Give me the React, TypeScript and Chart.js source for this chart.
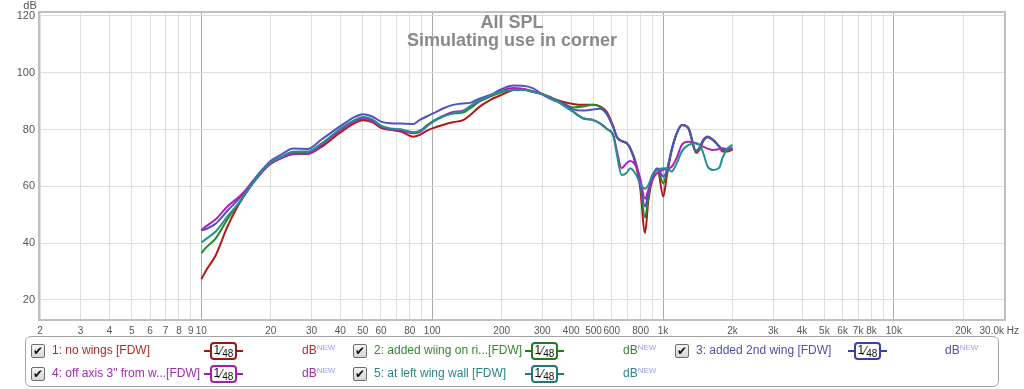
import React, { useEffect, useRef } from 'react';
import { Chart, registerables } from 'chart.js';

Chart.register(...registerables);

// ---------- data ----------
const FREQS = [
  10, 10.5, 11.5, 13, 14.5, 16.5, 18.5, 20, 22, 25, 29, 33, 40, 46, 50, 55, 60, 66, 73, 83, 88, 95,
  101, 112, 123, 136, 146, 160, 178, 203, 224, 247, 274, 302, 334, 368, 408, 450, 497,
  533, 570, 610, 630, 662, 696, 720, 766, 795, 836, 864, 906, 945, 1003, 1037, 1090, 1145, 1210,
  1290, 1390, 1440, 1490, 1560, 1650, 1750, 1810, 1900, 2000,
];

const S1_NO_WINGS = [
  27.3, 30.5, 35.5, 46, 53.5, 60.5, 65.5, 68, 69.8, 71.3, 71.5, 73.8, 79, 82.2, 83.3, 82.6, 80.6, 79.9, 79.3, 77.5, 78.1, 79.6,
  80.5, 81.7, 82.6, 83.3, 85.1, 88, 90.4, 92.5, 93.9, 94.2, 93.3, 92.5, 91, 89.8, 89, 88.7, 88.7,
  88.2, 86.3, 81, 77.5, 76, 75.3, 73.5, 67, 60, 43.6, 55.2, 63.4, 66.3, 56.4, 63.4, 72.5, 78.5, 81.6,
  80.3, 71.8, 73, 75.8, 77.3, 76.2, 74, 72.3, 72.3, 73,
];

const S2_WING_RIGHT = [
  36.5, 38.5, 41.5, 48.5, 54, 60.5, 65.5, 68.3, 70, 72, 72, 74.7, 80, 83, 84.2, 83.4, 81.2, 80.1, 79.9, 78.9, 79.3, 81.5,
  83.1, 84.8, 85.7, 86, 87.5, 89.8, 91.6, 93.3, 93.9, 94, 93.2, 92.4, 90.8, 89.4, 87.8, 88.1, 88.7,
  88, 85.6, 80.7, 77.5, 75.9, 75.2, 73.5, 67.5, 61.3, 49, 56.5, 63.8, 66.2, 61.1, 65, 73, 78.6, 81.6,
  80.4, 72.2, 73.4, 76, 77.4, 76.3, 74, 72.6, 72.6, 73,
];

const S3_SECOND_WING = [
  44.5, 45, 46.8, 51.5, 55.5, 61.3, 66.2, 69, 71, 73.3, 73.2, 76.4, 81.2, 84.4, 85.4, 84.6, 82.8, 82.2, 82.1, 82, 83.3, 84.7,
  85.7, 87.5, 88.7, 89.2, 89.4, 90.9, 92.2, 94.5, 95.5, 95.4, 94.5, 92.2, 90.4, 89.3, 87.1, 86.7, 87.1,
  87.3, 85.5, 80.6, 77.5, 75.9, 75.2, 73.6, 67.8, 61.5, 52.9, 58, 64, 66.3, 63.5, 65.5, 73, 78.6, 81.6,
  80.5, 72.6, 73.8, 76.3, 77.6, 76.4, 74.2, 73, 73.2, 73.6,
];

const S4_OFF_AXIS = [
  44.6, 46, 48.3, 53, 56.2, 60.8, 65.5, 68.2, 69.9, 71.5, 71.5, 74.5, 79.8, 82.8, 83.8, 83.1, 81, 80, 79.7, 78.7, 79.1, 81.2,
  82.8, 84.9, 86.2, 86.6, 88.2, 90.2, 91.8, 93.9, 94.6, 94.4, 93.5, 92.3, 90.7, 88.7, 86.3, 84, 83.4,
  82.2, 80.3, 78, 72.8, 66.4, 68.2, 68.9, 66.9, 63, 55.6, 58.8, 62.8, 64.8, 65.8, 66.2, 66.9, 70, 74.8,
  75.7, 75.2, 74.6, 74, 73.3, 72.8, 73.1, 73.4, 73.1, 72.8,
];

const S5_LEFT_WALL = [
  40.3, 41.5, 44, 49.5, 54, 60.5, 65.8, 68.5, 70.2, 72.2, 72.3, 75, 80.3, 83.3, 84.4, 83.6, 81.4, 80.4, 80.1, 79.1, 79.5, 81.4,
  82.8, 84.7, 85.8, 86.4, 88.2, 90.2, 91.9, 93.6, 93.9, 94, 93.3, 92.4, 90.7, 88.7, 86.3, 84, 83.4,
  82.2, 80.3, 77.5, 71.6, 64, 64.8, 66.4, 64, 61, 59.2, 60.5, 64.6, 65.8, 66.4, 66.4, 65.2, 68.1, 72.5,
  74.6, 75.2, 74.6, 72, 67, 65.8, 66.5, 70, 73.3, 74.6,
];

const SERIES_NAMES = [
  '1: no wings [FDW]',
  '2: added wiing on ri...[FDW]',
  '3: added 2nd wing [FDW]',
  '4: off axis 3" from w...[FDW]',
  '5: at left wing wall [FDW]',
];
const LINE_COLORS = ['#b31818', '#248a24', '#5252c4', '#ad22bd', '#21908f'];
const TEXT_COLORS = ['#b02a2a', '#2f8a2f', '#5050a8', '#a22ab0', '#2a8585'];
const BOX_COLORS = ['#a01414', '#1f7d1f', '#3c3cb0', '#a020b0', '#1f7a7a'];

const X_TICK_VALUES = [
  2, 3, 4, 5, 6, 7, 8, 9, 10, 20, 30, 40, 50, 60, 70, 80, 90, 100, 200, 300, 400, 500, 600, 700, 800, 900,
  1000, 2000, 3000, 4000, 5000, 6000, 7000, 8000, 9000, 10000, 20000, 30000,
];
// the last tick's label is drawn with its unit, flush to the right edge
const X_TICK_LABELS = [
  '2', '3', '4', '5', '6', '7', '8', '9', '10', '20', '30', '40', '50', '60', '', '80', '', '100', '200', '300', '400', '500', '600', '', '800', '',
  '1k', '2k', '3k', '4k', '5k', '6k', '7k', '8k', '', '10k', '20k', '',
];
const X_LAST_LABEL = '30.0k Hz';
const Y_UNIT = 'dB';
const X_MAJOR = [10, 100, 1000, 10000];
const Y_TICKS = [20, 40, 60, 80, 100, 120];

const TITLE_LINES = ['All SPL', 'Simulating use in corner'];
const FONT = '"Liberation Sans", Arial, sans-serif';

// ---------- plugins ----------
const framePlugin = {
  id: 'frame',
  beforeDatasetsDraw(chart: any) {
    const { ctx, chartArea: a } = chart;
    ctx.save();
    ctx.strokeStyle = '#c0c0c0';
    ctx.lineWidth = 2;
    ctx.strokeRect(a.left - 1, a.top - 1, a.right - a.left + 2, a.bottom - a.top + 2);
    ctx.restore();
  },
};

const textPlugin = {
  id: 'overlayText',
  afterDraw(chart: any) {
    const { ctx, chartArea: a } = chart;
    ctx.save();
    ctx.fillStyle = '#8a8a8a';
    ctx.font = `bold 18px ${FONT}`;
    ctx.textAlign = 'center';
    ctx.textBaseline = 'alphabetic';
    ctx.fillText(TITLE_LINES[0], 512, 28);
    ctx.fillText(TITLE_LINES[1], 512, 46);
    ctx.fillStyle = '#555';
    ctx.font = `11px ${FONT}`;
    ctx.fillText(Y_UNIT, 30, 9);
    ctx.font = `10px ${FONT}`;
    ctx.textAlign = 'right';
    ctx.textBaseline = 'top';
    ctx.fillText(X_LAST_LABEL, a.right + 15, a.bottom + 7);
    ctx.restore();
  },
};

// ---------- legend ----------
function CheckBox({ x, y }: { x: number; y: number }) {
  return (
    <div
      style={{
        position: 'absolute', left: x, top: y - 7, width: 12, height: 12,
        border: '1px solid #6e6e6e', borderRadius: 2,
        background: 'linear-gradient(#f4f4f4, #d6d6d6)',
        fontSize: 12, lineHeight: '12px', textAlign: 'center', color: '#111',
        fontFamily: '"DejaVu Sans", sans-serif',
      }}
    >
      ✔
    </div>
  );
}

function LegendEntry({ idx, x, y, boxX, dbX }: { idx: number; x: number; y: number; boxX: number; dbX: number }) {
  return (
    <>
      <CheckBox x={x} y={y} />
      <div style={{ position: 'absolute', left: x + 21, top: y - 8, fontSize: 12, lineHeight: '14px', color: TEXT_COLORS[idx], whiteSpace: 'nowrap' }}>
        {SERIES_NAMES[idx]}
      </div>
      <div style={{ position: 'absolute', left: boxX, top: y - 1, width: 39, height: 2, background: BOX_COLORS[idx] }} />
      <div
        style={{
          position: 'absolute', left: boxX + 6, top: y - 9, width: 23, height: 14,
          border: `2px solid ${BOX_COLORS[idx]}`, borderRadius: 4, background: '#fff',
          fontSize: 12, lineHeight: '14px', color: '#111', whiteSpace: 'nowrap', textAlign: 'center',
        }}
      >
        <span style={{ position: 'relative', top: -1 }}>1</span>
        <span>⁄</span>
        <span style={{ fontSize: 10, position: 'relative', top: 2 }}>48</span>
      </div>
      <div style={{ position: 'absolute', left: dbX, top: y - 8, fontSize: 12, lineHeight: '14px', color: TEXT_COLORS[idx], whiteSpace: 'nowrap' }}>
        dB<span style={{ fontSize: 8, color: '#9b9bf0', position: 'relative', top: -4 }}>NEW</span>
      </div>
    </>
  );
}

export default function App() {
  const canvasRef = useRef<HTMLCanvasElement | null>(null);

  useEffect(() => {
    if (!canvasRef.current) return;
    const seriesValues = [S1_NO_WINGS, S2_WING_RIGHT, S3_SECOND_WING, S4_OFF_AXIS, S5_LEFT_WALL];
    const chart = new Chart(canvasRef.current, {
      type: 'line',
      data: {
        datasets: seriesValues.map((vals, i) => ({
          label: SERIES_NAMES[i],
          data: FREQS.map((f, j) => ({ x: f, y: vals[j] })),
          borderColor: LINE_COLORS[i],
          backgroundColor: LINE_COLORS[i],
          borderWidth: 2,
          pointRadius: 0,
          fill: false,
          cubicInterpolationMode: 'monotone' as const,
          order: 5 - i,
        })),
      },
      options: {
        responsive: false,
        animation: false,
        events: [],
        layout: { padding: { left: 0, right: 20, top: 13, bottom: 0 } },
        plugins: { legend: { display: false }, tooltip: { enabled: false }, title: { display: false } },
        scales: {
          x: {
            type: 'logarithmic',
            min: 2,
            max: 30000,
            afterBuildTicks: (s: any) => {
              s.ticks = X_TICK_VALUES.map((v) => ({ value: v }));
            },
            afterFit: (s: any) => {
              s.height = 70;
              s.paddingLeft = 0;
              s.paddingRight = 0;
            },
            ticks: {
              autoSkip: false,
              maxRotation: 0,
              minRotation: 0,
              padding: 6,
              color: '#555',
              font: { family: FONT, size: 10 },
              callback: (_v: any, i: number) => X_TICK_LABELS[i],
            },
            grid: {
              drawTicks: false,
              lineWidth: 1,
              color: (c: any) => (c.tick && X_MAJOR.includes(c.tick.value) ? '#a9a9a9' : '#dedede'),
            },
            border: { display: false },
          },
          y: {
            type: 'linear',
            min: 13.3,
            max: 121.05,
            afterBuildTicks: (s: any) => {
              s.ticks = Y_TICKS.map((v) => ({ value: v }));
            },
            afterFit: (s: any) => {
              s.width = 40;
            },
            ticks: {
              padding: 5,
              color: '#555',
              font: { family: FONT, size: 11 },
              callback: (v: any) => String(v),
            },
            grid: { drawTicks: false, color: '#dedede', lineWidth: 1 },
            border: { display: false },
          },
        },
      },
      plugins: [framePlugin, textPlugin],
    } as any);
    return () => chart.destroy();
  }, []);

  return (
    <div style={{ position: 'absolute', left: 0, top: 0, width: 1024, height: 389, background: '#fff', fontFamily: FONT, overflow: 'hidden' }}>
      <canvas ref={canvasRef} width={1024} height={389} style={{ position: 'absolute', left: 0, top: 0, width: 1024, height: 389 }} />
      <div style={{ position: 'absolute', left: 25, top: 336, width: 972, height: 49, border: '1px solid #a3a3a3', borderRadius: 6 }} />
      <LegendEntry idx={0} x={31} y={351} boxX={204} dbX={302} />
      <LegendEntry idx={1} x={353} y={351} boxX={525} dbX={623} />
      <LegendEntry idx={2} x={675} y={351} boxX={848} dbX={945} />
      <LegendEntry idx={3} x={31} y={374} boxX={204} dbX={302} />
      <LegendEntry idx={4} x={353} y={374} boxX={525} dbX={623} />
    </div>
  );
}
